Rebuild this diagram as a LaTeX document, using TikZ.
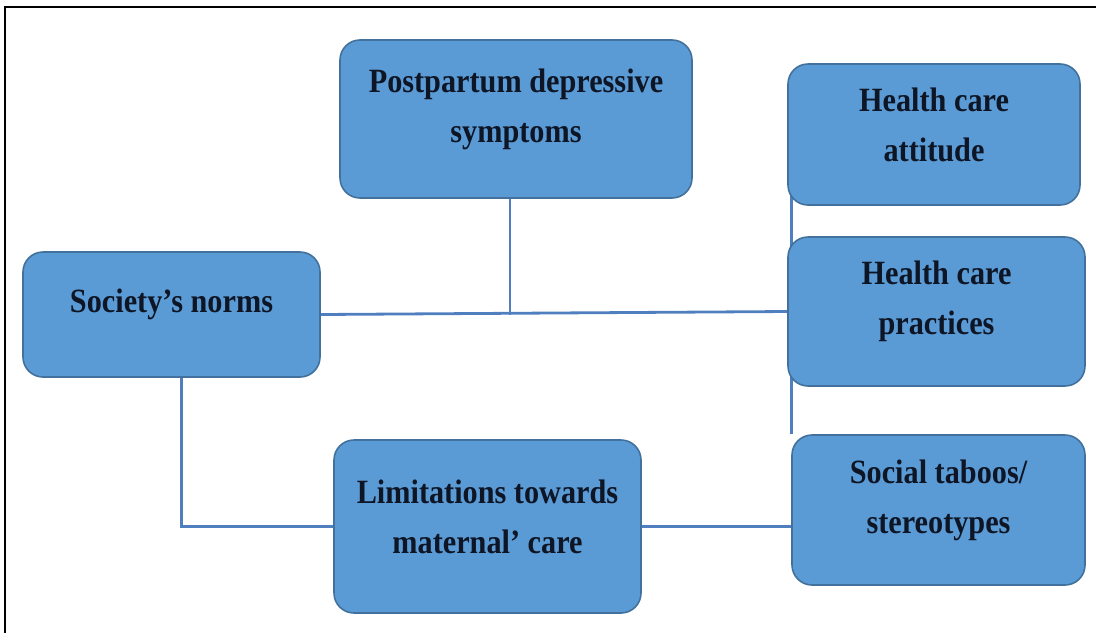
\documentclass[tikz,border=0pt]{standalone}
\usepackage{fontspec}
\setmainfont{Liberation Serif}[FakeStretch=0.89]
\usetikzlibrary{positioning,backgrounds}

\definecolor{boxblue}{HTML}{5B9BD5}
\definecolor{edgeblue}{HTML}{41719C}
\definecolor{lineblue}{HTML}{4F7FBF}
\definecolor{textnavy}{HTML}{0E1626}

\begin{document}
\begin{tikzpicture}[
    x=0.5pt, y=-0.5pt,
    every node/.style={align=center},
    box/.style={draw=edgeblue, fill=boxblue, rounded corners=10pt, line width=0.8pt,
        label={[yshift=5pt, align=center, text=textnavy,
        font=\fontsize{17}{25}\selectfont\bfseries]center:#1}},
    link/.style={draw=lineblue, line width=1.4pt}
]

    \useasboundingbox (0,0) rectangle (1096,632);
    \draw[line width=1pt] (5,640) -- (5,7) -- (1100,7);

    % Draw nodes
    \node[box={Postpartum depressive\\symptoms}, minimum width=176pt, minimum height=79pt] (post) at (516,119) {};
    \node[box={Health care\\attitude}, minimum width=146pt, minimum height=70.5pt] (attitude) at (934,134.5) {};
    \node[box={Health care\\practices}, minimum width=148.5pt, minimum height=74.5pt] (practices) at (936.5,311.5) {};
    \node[box={Social taboos/\\stereotypes}, minimum width=146.5pt, minimum height=75pt] (taboos) at (938.5,510) {};
    \node[box={Society’s norms}, minimum width=148.5pt, minimum height=62.5pt] (norms) at (171.5,314.5) {};
    \node[box={Limitations towards\\maternal’ care}, minimum width=153.5pt, minimum height=86.5pt] (limits) at (487.5,526.5) {};

    % Draw connections
    \begin{scope}[on background layer]
        \draw[link] (norms.east) -- (practices.west);
        \draw[link] ([xshift=-3pt]post.south) -- ([xshift=-3pt]post.south |- norms.east);
        \draw[link] ([xshift=2pt]attitude.west) -- ([xshift=2pt]attitude.west |- taboos.north);
        \draw[link] ([xshift=5pt]norms.south) -- ([xshift=5pt]norms.south |- limits.west) -- (limits.west);
        \draw[link] (limits.east) -- (limits.east -| taboos.west);
    \end{scope}

\end{tikzpicture}
\end{document}
